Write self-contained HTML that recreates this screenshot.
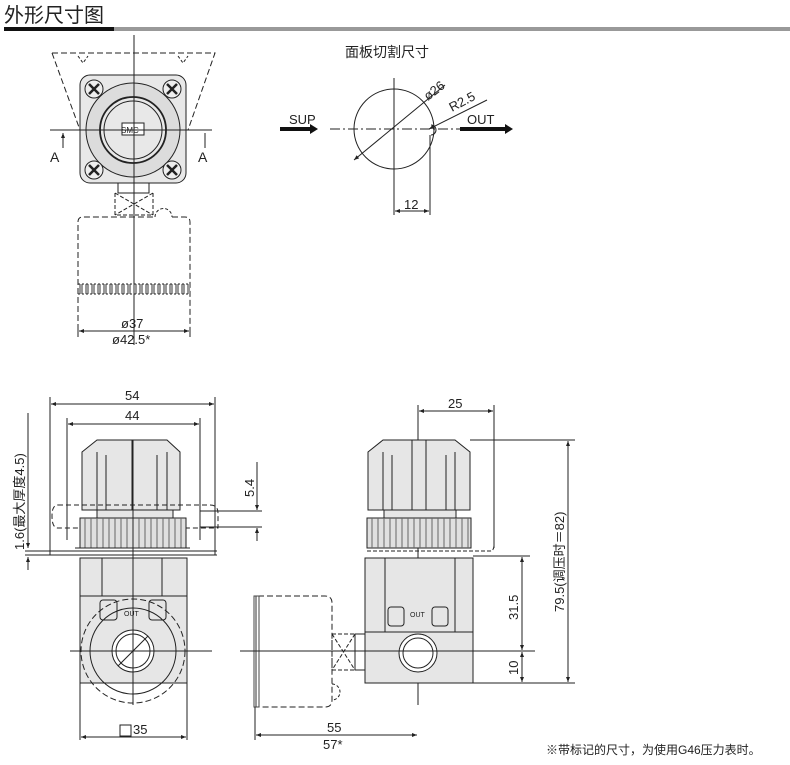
<!DOCTYPE html>
<html><head><meta charset="utf-8"><style>
html,body{margin:0;padding:0;background:#fff;}
svg{display:block;}
text{font-family:"Liberation Sans","Noto Sans CJK SC",sans-serif;fill:#222;}
</style></head><body>
<svg width="790" height="765" viewBox="0 0 790 765" xmlns="http://www.w3.org/2000/svg">
<defs>
<marker id="a" viewBox="0 0 10 10" refX="10" refY="5" markerWidth="7" markerHeight="5" orient="auto-start-reverse"><path d="M0,1 L10,5 L0,9z" fill="#222"/></marker>
<pattern id="t" width="6" height="10" patternUnits="userSpaceOnUse"><line x1="2" y1="0" x2="2" y2="10" stroke="#333" stroke-width="1"/><line x1="4" y1="0" x2="4" y2="10" stroke="#333" stroke-width="1"/></pattern>
</defs>
<!-- header -->
<text x="4" y="22" font-size="20" style="font-family:'Noto Sans CJK SC',sans-serif">外形尺寸图</text>
<rect x="4" y="27" width="110" height="4" fill="#111"/>
<rect x="114" y="27" width="676" height="4" fill="#999"/>

<g stroke="#222" stroke-width="1" fill="none">
<!-- TOP VIEW -->
<path d="M52,53 L215,53 L188,130 M52,53 L80,130" stroke-dasharray="6,3"/>
<path d="M78,56 l5,7 l5,-7 M178,56 l5,7 l5,-7" stroke-dasharray="3,2"/>
<rect x="80" y="75" width="106" height="108" rx="10" fill="#e8e8e8"/>
<circle cx="133" cy="130" r="47" fill="#dcdcdc"/>
<circle cx="133" cy="130" r="33" fill="#e8e8e8" stroke-width="1.8"/>
<circle cx="133" cy="130" r="29"/>
<circle cx="94" cy="89" r="9" fill="#eee"/><circle cx="172" cy="89" r="9" fill="#eee"/>
<circle cx="94" cy="170" r="9" fill="#eee"/><circle cx="172" cy="170" r="9" fill="#eee"/>
<path d="M89,84 l10,10 M99,84 l-10,10 M167,84 l10,10 M177,84 l-10,10 M89,165 l10,10 M99,165 l-10,10 M167,165 l10,10 M177,165 l-10,10" stroke-width="2.5"/>
<rect x="122" y="123" width="22" height="12" fill="#fff"/>
<line x1="134" y1="35" x2="134" y2="345"/>
<line x1="50" y1="130" x2="212" y2="130"/>
<path d="M63,133 L63,148 M205,133 L205,148" marker-start="url(#a)"/>
<path d="M118,183 L118,193 L149,193 L149,183"/>
<path d="M115,193 L115,215 L153,215 L153,193 M115,193 L153,215 M153,193 L115,215" stroke-dasharray="4,2"/>
<path d="M78,330 L78,222 Q78,217 83,217 L155,217 M172,217 L185,217 Q190,217 190,222 L190,330" stroke-dasharray="6,3"/>
<path d="M155,217 a8,8 0 0 1 17,0" stroke-dasharray="3,2"/>
<rect x="78" y="284" width="112" height="10" fill="url(#t)" stroke="none"/>
<path d="M78,284 L190,284 M78,294 L190,294" stroke-dasharray="2,2"/>
<path d="M78,330 L78,337 M190,330 L190,337"/>
<line x1="79" y1="331" x2="189" y2="331" marker-start="url(#a)" marker-end="url(#a)"/>

<!-- PANEL CUTOUT -->
<circle cx="394" cy="129" r="40"/>
<line x1="394" y1="78" x2="394" y2="215"/>
<line x1="330" y1="129" x2="460" y2="129" stroke-dasharray="10,3,2,3"/>
<line x1="354" y1="160" x2="445" y2="85" marker-start="url(#a)"/>
<line x1="429" y1="129" x2="487" y2="100" marker-start="url(#a)"/>
<path d="M431,125 a5,5 0 0 1 0,10" />
<line x1="430" y1="135" x2="430" y2="215"/>
<line x1="395" y1="211" x2="429" y2="211" marker-start="url(#a)" marker-end="url(#a)"/>
</g>
<path d="M280,127 L310,127 L310,124 L318,129 L310,134 L310,131 L280,131z" fill="#111"/>
<path d="M460,127 L505,127 L505,124 L513,129 L505,134 L505,131 L460,131z" fill="#111"/>
<text x="345" y="57" font-size="14">面板切割尺寸</text>
<text x="289" y="124" font-size="13">SUP</text>
<text x="467" y="124" font-size="13">OUT</text>
<text x="428" y="101" font-size="13" transform="rotate(-38 428 101)">ø26</text>
<text x="452" y="112" font-size="13" transform="rotate(-28 452 112)">R2.5</text>
<text x="404" y="209" font-size="13">12</text>
<text x="50" y="162" font-size="14">A</text>
<text x="198" y="162" font-size="14">A</text>
<text x="121" y="133" font-size="8" style="font-family:'Liberation Sans'">SMC</text>
<text x="121" y="328" font-size="13">ø37</text>
<text x="112" y="344" font-size="13">ø42.5*</text>

<!-- FRONT VIEW -->
<g stroke="#222" stroke-width="1" fill="none">
<line x1="50" y1="397" x2="50" y2="555"/><line x1="215" y1="397" x2="215" y2="555"/>
<line x1="51" y1="404" x2="214" y2="404" marker-start="url(#a)" marker-end="url(#a)"/>
<line x1="67" y1="418" x2="67" y2="540"/><line x1="200" y1="418" x2="200" y2="540"/>
<line x1="68" y1="424" x2="199" y2="424" marker-start="url(#a)" marker-end="url(#a)"/>
<path d="M82,452 L97,440 L167,440 L180,452 L180,510 L82,510z" fill="#e6e6e6"/>
<path d="M97,452 L97,510 M106,455 L106,510 M132,440 L132,510 M157,455 L157,510 M167,452 L167,510"/>
<path d="M58,505 L210,505 Q218,505 218,513 L218,528 L58,528 Q52,528 52,516 Q52,505 58,505z" stroke-dasharray="5,3"/>
<rect x="97" y="510" width="76" height="8" fill="#e6e6e6"/>
<rect x="80" y="518" width="106" height="30" fill="#e0e0e0"/>
<path d="M85,518 v30 M91,518 v30 M97,518 v30 M103,518 v30 M109,518 v30 M115,518 v30 M121,518 v30 M127,518 v30 M133,518 v30 M139,518 v30 M145,518 v30 M151,518 v30 M157,518 v30 M163,518 v30 M169,518 v30 M175,518 v30 M181,518 v30" stroke="#666"/>
<path d="M75,548 L190,548 M25,551 L217,551 M25,555 L217,555"/>
<rect x="80" y="558" width="107" height="125" fill="#e6e6e6"/>
<path d="M80,596 L187,596 M102,558 v38 M162,558 v38"/>
<rect x="100" y="600" width="17" height="20" rx="3"/><rect x="149" y="600" width="17" height="20" rx="3"/>
<circle cx="133" cy="651" r="52" stroke-dasharray="6,3"/>
<circle cx="133" cy="651" r="43"/>
<circle cx="133" cy="651" r="21" fill="#fff"/><circle cx="133" cy="651" r="17"/>
<line x1="118" y1="666" x2="148" y2="636"/>
<line x1="70" y1="651" x2="212" y2="651"/>
<line x1="133" y1="440" x2="133" y2="705"/>
<line x1="80" y1="683" x2="80" y2="740"/><line x1="187" y1="683" x2="187" y2="740"/>
<line x1="81" y1="737" x2="186" y2="737" marker-start="url(#a)" marker-end="url(#a)"/>
<line x1="28" y1="413" x2="28" y2="548" marker-end="url(#a)"/>
<line x1="28" y1="570" x2="28" y2="557" marker-end="url(#a)"/>
<line x1="200" y1="511" x2="262" y2="511"/><line x1="200" y1="527" x2="262" y2="527"/>
<line x1="257" y1="462" x2="257" y2="510" marker-end="url(#a)"/>
<line x1="257" y1="541" x2="257" y2="528" marker-end="url(#a)"/>
<rect x="120" y="725" width="11" height="11"/>
</g>
<text x="125" y="400" font-size="13">54</text>
<text x="125" y="420" font-size="13">44</text>
<text x="133" y="734" font-size="13">35</text>
<text x="124" y="616" font-size="7">OUT</text>
<text x="24" y="550" font-size="13" transform="rotate(-90 24 550)">1.6(最大厚度4.5)</text>
<text x="254" y="497" font-size="13" transform="rotate(-90 254 497)">5.4</text>

<!-- SIDE VIEW -->
<g stroke="#222" stroke-width="1" fill="none">
<line x1="418" y1="405" x2="418" y2="705"/>
<line x1="494" y1="405" x2="494" y2="548"/>
<line x1="419" y1="411" x2="493" y2="411" marker-start="url(#a)" marker-end="url(#a)"/>
<path d="M368,452 L383,440 L455,440 L470,452 L470,510 L368,510z" fill="#e6e6e6"/>
<path d="M383,452 v58 M392,455 v55 M446,455 v55 M455,452 v58 M412,440 v70 M426,440 v70"/>
<rect x="384" y="510" width="72" height="8" fill="#e6e6e6"/>
<rect x="367" y="518" width="104" height="30" fill="#e0e0e0"/>
<path d="M372,518 v30 M378,518 v30 M384,518 v30 M390,518 v30 M396,518 v30 M402,518 v30 M408,518 v30 M414,518 v30 M420,518 v30 M426,518 v30 M432,518 v30 M438,518 v30 M444,518 v30 M450,518 v30 M456,518 v30 M462,518 v30 M468,518 v30" stroke="#666"/>
<path d="M367,551 L490,551 Q494,551 494,545 L494,505" stroke-dasharray="4,2"/>
<rect x="365" y="558" width="108" height="125" fill="#e6e6e6"/>
<path d="M365,632 L473,632 M385,558 v74 M455,558 v74"/>
<rect x="388" y="607" width="16" height="19" rx="3"/><rect x="432" y="607" width="16" height="19" rx="3"/>
<circle cx="418" cy="653" r="19" fill="#fff"/><circle cx="418" cy="653" r="15"/>
<path d="M258,596 L325,596 Q332,596 332,603 L332,700 Q332,707 325,707 L258,707" stroke-dasharray="6,3"/>
<rect x="254" y="596" width="5" height="111" fill="url(#t)" stroke="#444"/>
<path d="M332,634 L355,634 L355,670 L332,670z M332,634 L355,670 M355,634 L332,670" stroke-dasharray="4,2"/>
<rect x="355" y="634" width="10" height="36"/>
<path d="M332,684 a8,8 0 0 1 0,16" stroke-dasharray="3,2"/>
<line x1="240" y1="651" x2="535" y2="651"/>
<line x1="470" y1="440" x2="575" y2="440"/>
<line x1="473" y1="683" x2="575" y2="683"/>
<line x1="473" y1="556" x2="530" y2="556"/>
<line x1="522" y1="557" x2="522" y2="650" marker-start="url(#a)" marker-end="url(#a)"/>
<line x1="522" y1="652" x2="522" y2="682" marker-start="url(#a)" marker-end="url(#a)"/>
<line x1="568" y1="441" x2="568" y2="682" marker-start="url(#a)" marker-end="url(#a)"/>
<line x1="255" y1="707" x2="255" y2="740"/>
<line x1="256" y1="735" x2="417" y2="735" marker-start="url(#a)" marker-end="url(#a)"/>
</g>
<text x="448" y="408" font-size="13">25</text>
<text x="410" y="617" font-size="7">OUT</text>
<text x="518" y="620" font-size="13" transform="rotate(-90 518 620)">31.5</text>
<text x="518" y="675" font-size="13" transform="rotate(-90 518 675)">10</text>
<text x="564" y="612" font-size="13" transform="rotate(-90 564 612)">79.5(调压时＝82)</text>
<text x="327" y="732" font-size="13">55</text>
<text x="323" y="749" font-size="13">57*</text>
<text x="546" y="754" font-size="12">※带标记的尺寸，为使用G46压力表时。</text>
</svg>
</body></html>
